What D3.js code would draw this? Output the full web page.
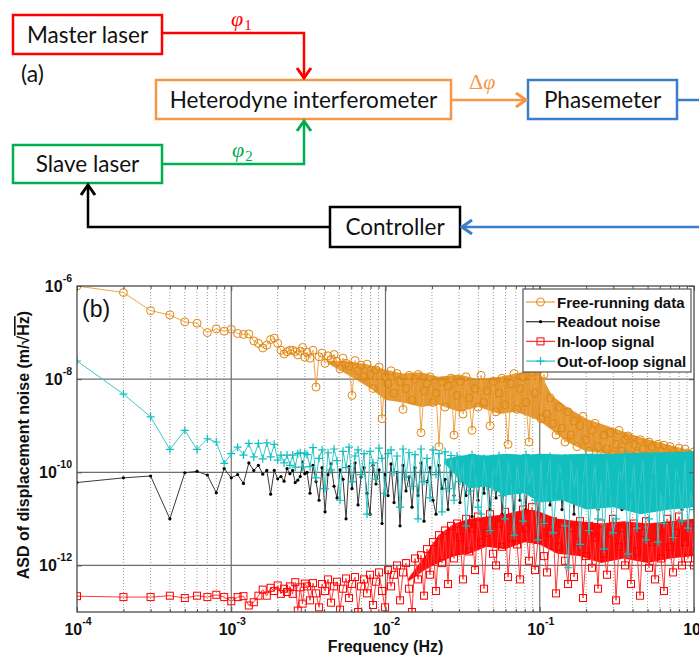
<!DOCTYPE html>
<html>
<head>
<meta charset="utf-8">
<script src="https://cdn.jsdelivr.net/npm/d3@7"></script>
<style>
  body { margin: 0; background: #fff; }
  svg { display: block; }
</style>
</head>
<body>
<svg id="fig" width="699" height="655"></svg>
<script>
// ---------------- data ----------------
// spectrum bin width of the phase measurement
const binHz = 1e-4;

// log10 ASD (m/rtHz) for the first 30 frequency bins (k * binHz)
const freeRunningLow = [-6.0, -6.14, -6.53, -6.62, -6.77, -6.80, -7.0, -6.92, -6.97, -6.93,
  -7.02, -7.04, -7.03, -7.18, -7.23, -7.33, -7.27, -7.15, -7.12, -7.23,
  -7.38, -7.46, -7.41, -7.38, -7.38, -7.41, -7.48, -7.40, -7.32, -7.53];
const readoutLow = [-10.22, -10.12, -10.08, -11.0, -10.01, -9.98, -10.06, -10.44, -9.92, -10.12,
  -10.05, -10.24, -9.80, -9.96, -9.85, -10.04, -9.96, -10.47, -9.96, -10.14,
  -10.09, -10.19, -9.92, -10.03, -9.96, -10.22, -10.17, -10.09, -9.78, -10.03];
const inLoopLow = [-12.66, -12.68, -12.68, -12.65, -12.70, -12.65, -12.68, -12.63, -12.68, -12.77,
  -12.68, -12.66, -12.86, -12.79, -12.65, -12.52, -12.65, -12.48, -12.55, -12.43,
  -12.61, -12.50, -12.57, -12.45, -12.61, -12.36, -12.97, -12.47, -12.82, -12.39];
const outOfLoopLow = [-7.61, -8.32, -8.81, -9.51, -9.10, -9.51, -9.28, -9.35, -9.81, -9.60,
  -9.46, -9.63, -9.38, -9.67, -9.38, -9.71, -9.37, -9.67, -9.40, -9.74,
  -9.63, -9.80, -9.63, -9.85, -9.63, -9.89, -9.60, -9.58, -9.89, -9.59];

// log10 ASD samples from 3.1 mHz to 1 Hz, evenly spaced in log frequency
const denseStartHz = 0.0031, denseEndHz = 1;
const freeRunningDense = [
  -7.42, -7.55, -7.38, -8.17, -7.52, -7.44, -7.66, -7.5, -7.58, -7.47,
  -7.62, -7.78, -7.55, -7.66, -7.72, -8.35, -7.6, -7.82, -7.7, -7.95,
  -7.68, -7.9, -8.2, -7.8, -7.74, -8.85, -7.95, -8.1, -7.82, -8.3,
  -7.88, -8.05, -8.65, -8.2, -7.92, -8.45, -8.0, -7.9, -9.15, -8.25,
  -8.1, -7.95, -8.5, -8.3, -9.45, -8.05, -8.6, -8.15, -7.98, -9.2,
  -8.35, -8.05, -8.75, -7.95, -8.4, -9.1, -8.2, -8.6, -7.92, -8.5,
  -8.25, -9.0, -8.05, -8.7, -8.3, -7.98, -8.55, -9.4, -8.1, -7.88,
  -8.65, -8.2, -7.95, -8.5, -9.35, -7.85, -8.3, -7.82, -8.85, -7.9,
  -8.75, -8.4, -8.95, -9.2, -8.6, -9.05, -9.35, -8.7, -9.2, -8.9,
  -9.45, -9.0, -8.8, -9.3, -9.55, -9.1, -8.95, -9.45, -9.6, -9.2,
  -9.5, -9.15, -9.62, -9.4, -9.1, -9.55, -9.3, -9.22, -9.64, -9.4,
  -9.6, -9.3, -9.5, -9.65, -9.35, -9.45, -9.66, -9.4, -9.55, -9.42,
  -9.65, -9.45, -9.55, -9.62, -9.48, -9.66, -9.5, -9.6, -9.66, -9.56];
const readoutDense = [
  -10.0, -10.45, -9.85, -10.2, -10.6, -9.9, -10.85, -10.05, -9.82, -10.3,
  -10.55, -9.95, -10.15, -11.0, -9.88, -10.35, -9.8, -10.7, -10.1, -9.9,
  -10.45, -10.9, -9.85, -10.25, -9.95, -11.1, -10.05, -10.5, -9.82, -10.65,
  -10.0, -11.15, -9.85, -10.4, -10.1, -10.75, -9.9, -10.5, -9.8, -11.05,
  -10.2, -9.9, -10.6, -10.9, -9.85, -10.35, -10.15, -10.8, -9.9, -10.5,
  -9.8, -10.65, -10.2, -10.5, -9.78, -10.95, -10.05, -10.6, -9.85, -10.45,
  -9.75, -10.8, -10.1, -10.55, -9.72, -10.9, -9.95, -10.45, -9.78, -11.0,
  -9.7, -10.6, -10.0, -10.8, -9.7, -10.5, -9.85, -11.1, -9.68, -10.6,
  -9.72, -10.7, -9.9, -10.5, -9.7, -10.8, -9.65, -10.6, -9.8, -10.9,
  -9.66, -10.5, -9.75, -10.7, -9.68, -10.6, -9.65, -10.8, -9.7, -10.5,
  -9.64, -10.7, -9.72, -10.5, -9.64, -10.8, -9.68, -10.6, -9.64, -10.7,
  -9.65, -10.5, -9.7, -10.8, -9.64, -10.6, -9.62, -10.7, -9.66, -10.5,
  -9.62, -10.7, -9.66, -10.6, -9.62, -10.8, -9.6, -10.6, -9.64, -10.7];
const inLoopDense = [
  -12.45, -12.75, -12.38, -12.6, -12.9, -12.4, -12.55, -12.3, -12.8, -12.45,
  -12.35, -12.95, -12.5, -12.28, -12.7, -12.4, -12.25, -13.0, -12.45, -12.3,
  -12.6, -12.2, -12.85, -12.35, -12.15, -12.55, -12.9, -12.1, -12.45, -12.2,
  -12.0, -12.75, -12.15, -11.95, -12.5, -13.0, -11.85, -12.3, -11.78, -12.65,
  -11.65, -12.2, -11.5, -12.55, -11.35, -11.95, -11.25, -12.4, -11.15, -11.85,
  -11.1, -11.4, -12.3, -11.0, -11.7, -11.2, -12.1, -10.95, -11.5, -12.5,
  -11.3, -10.9, -11.75, -12.0, -11.1, -11.6, -10.85, -12.25, -11.4, -11.0,
  -11.55, -12.3, -10.8, -11.2, -11.9, -10.75, -12.1, -11.45, -11.0, -11.8,
  -12.15, -11.3, -11.05, -12.6, -11.6, -11.1, -11.9, -12.4, -11.2, -12.25,
  -11.5, -11.05, -12.7, -11.8, -11.15, -12.05, -11.4, -12.5, -11.1, -11.75,
  -12.2, -11.3, -11.0, -12.75, -11.6, -11.2, -12.0, -11.45, -12.4, -11.1,
  -11.7, -12.65, -11.3, -11.05, -12.05, -11.5, -12.3, -11.2, -11.85, -12.55,
  -11.0, -11.6, -12.15, -11.3, -10.95, -12.0, -11.5, -11.85, -11.1, -12.0];
const outOfLoopDense = [
  -9.62, -9.88, -9.47, -10.12, -9.7, -9.52, -10.35, -9.58, -9.95, -9.5,
  -9.75, -10.6, -9.55, -9.9, -9.46, -10.2, -9.65, -9.52, -10.05, -9.6,
  -10.9, -9.55, -9.8, -10.15, -9.48, -9.7, -10.45, -9.6, -9.52, -10.0,
  -9.65, -10.75, -9.5, -10.1, -9.58, -10.3, -9.62, -11.0, -9.5, -10.2,
  -9.7, -10.55, -9.52, -10.05, -9.6, -10.85, -9.56, -10.35, -9.64, -10.6,
  -9.65, -10.2, -9.8, -11.15, -10.4, -9.62, -10.0, -10.75, -10.9, -9.7,
  -10.3, -11.25, -9.9, -10.1, -9.64, -10.5, -11.0, -9.75, -10.2, -11.35,
  -9.8, -10.4, -11.05, -9.62, -10.3, -9.9, -10.6, -11.45, -9.7, -11.1,
  -10.2, -9.66, -11.3, -10.5, -9.8, -10.1, -11.15, -12.05, -9.7, -10.35,
  -9.9, -11.55, -10.2, -9.64, -11.25, -10.45, -9.8, -11.0, -10.15, -11.65,
  -9.7, -10.4, -11.3, -11.0, -9.9, -10.2, -9.62, -11.75, -10.5, -9.8,
  -11.2, -10.3, -9.7, -11.45, -11.0, -10.1, -9.64, -11.5, -10.4, -11.1,
  -9.75, -10.6, -11.4, -9.9, -10.2, -11.05, -9.7, -11.2, -10.4, -10.8];

// bulk of the scatter where the spectra are densely packed: [Hz, log10 low, log10 high]
const freeRunningBand = [[0.0042, -7.66, -7.6], [0.006, -7.95, -7.62], [0.008, -8.2, -7.7],
  [0.01, -8.45, -7.8], [0.013, -8.5, -7.88], [0.017, -8.6, -7.85], [0.022, -8.55, -7.95],
  [0.03, -8.7, -7.9], [0.04, -8.6, -8.0], [0.055, -8.75, -7.95], [0.07, -8.7, -7.88],
  [0.085, -8.8, -7.82], [0.1, -8.9, -7.85], [0.12, -9.1, -8.35], [0.15, -9.35, -8.6],
  [0.2, -9.55, -8.85], [0.3, -9.62, -9.05], [0.45, -9.65, -9.25], [0.7, -9.66, -9.42],
  [1, -9.66, -9.55]];
const inLoopBand = [[0.014, -12.35, -12.28], [0.018, -12.1, -11.8], [0.022, -11.95, -11.35],
  [0.028, -11.8, -11.1], [0.035, -11.75, -11.0], [0.045, -11.6, -10.95], [0.06, -11.65, -10.9],
  [0.08, -11.5, -10.8], [0.1, -11.55, -10.85], [0.13, -11.75, -11.0], [0.18, -11.8, -11.05],
  [0.25, -11.95, -11.1], [0.35, -11.85, -11.05], [0.5, -11.95, -11.1], [0.7, -11.85, -11.05],
  [1, -11.8, -11.0]];
const outOfLoopBand = [[0.024, -9.8, -9.72], [0.03, -10.15, -9.65], [0.035, -10.35, -9.62],
  [0.045, -10.3, -9.64], [0.06, -10.5, -9.6], [0.08, -10.45, -9.63], [0.1, -10.65, -9.6],
  [0.14, -10.6, -9.62], [0.2, -10.8, -9.6], [0.3, -10.75, -9.6], [0.45, -10.9, -9.58],
  [0.7, -10.8, -9.57], [1, -10.75, -9.55]];

const xTickValues = [1e-4, 1e-3, 1e-2, 1e-1, 1];
const xTickExponents = ["-4", "-3", "-2", "-1", "0"];
const yTickValues = [1e-6, 1e-8, 1e-10, 1e-12];
const yTickExponents = ["-6", "-8", "-10", "-12"];
const legendLabels = ["Free-running data", "Readout noise", "In-loop signal", "Out-of-loop signal"];

// ---------------- drawing ----------------
const svg = d3.select("#fig");
const diagramFont = "Lato, 'Open Sans', sans-serif";
const chartFont = "'Liberation Sans', Arial, sans-serif";

// ---- (a) block diagram ----
const dia = svg.append("g");
const boxes = [
  {label: "Master laser", x: 13, y: 15, w: 149, h: 39, color: "#ff0000"},
  {label: "Slave laser", x: 13, y: 145, w: 149, h: 38, color: "#00b050"},
  {label: "Heterodyne interferometer", x: 156, y: 80, w: 295, h: 39, color: "#f79646"},
  {label: "Phasemeter", x: 528, y: 80, w: 149, h: 39, color: "#3b7dc8"},
  {label: "Controller", x: 330, y: 207, w: 130, h: 40, color: "#000000"}
];
boxes.forEach(b => {
  dia.append("rect").attr("x", b.x).attr("y", b.y).attr("width", b.w).attr("height", b.h)
    .attr("fill", "#fff").attr("stroke", b.color).attr("stroke-width", 2.5);
  dia.append("text").attr("x", b.x + b.w / 2).attr("y", b.y + b.h / 2 + 8)
    .attr("text-anchor", "middle").attr("font-family", diagramFont).attr("font-size", 22.5)
    .attr("fill", "#111").text(b.label);
});

function connector(points, color) {
  dia.append("polyline").attr("points", points.map(p => p.join(",")).join(" "))
    .attr("fill", "none").attr("stroke", color).attr("stroke-width", 2.5);
  const [tx, ty] = points[points.length - 1];
  const [px, py] = points[points.length - 2];
  const len = Math.hypot(tx - px, ty - py), ux = (tx - px) / len, uy = (ty - py) / len;
  const a = 10, s = 7;
  dia.append("polyline")
    .attr("points", [[tx - ux * a - uy * s, ty - uy * a + ux * s], [tx, ty], [tx - ux * a + uy * s, ty - uy * a - ux * s]]
      .map(p => p.join(",")).join(" "))
    .attr("fill", "none").attr("stroke", color).attr("stroke-width", 3)
    .attr("stroke-linejoin", "miter");
}
connector([[162, 33], [304, 33], [304, 78]], "#ff0000");
connector([[162, 164], [304, 164], [304, 121]], "#00b050");
connector([[452, 100], [526, 100]], "#f79646");
dia.append("line").attr("x1", 678).attr("x2", 699).attr("y1", 100).attr("y2", 100)
  .attr("stroke", "#3b7dc8").attr("stroke-width", 2.5);
connector([[699, 227], [462, 227]], "#3b7dc8");
connector([[330, 227], [88, 227], [88, 185]], "#000000");

function phaseLabel(px, py, color, prefix, sub) {
  const t = dia.append("text").attr("x", px).attr("y", py).attr("fill", color)
    .attr("font-family", "'Liberation Serif', 'DejaVu Serif', serif").attr("font-size", 22);
  if (prefix) t.append("tspan").text(prefix);
  t.append("tspan").attr("font-style", "italic").text("φ");
  if (sub) t.append("tspan").attr("font-size", 15).attr("dx", 1).attr("dy", 4).text(sub);
}
phaseLabel(231, 26, "#ff0000", null, "1");
phaseLabel(232, 157, "#00b050", null, "2");
phaseLabel(469, 89, "#f79646", "Δ", null);
dia.append("text").attr("x", 21).attr("y", 82).attr("font-family", diagramFont)
  .attr("font-size", 23).attr("fill", "#111").text("(a)");

// ---- (b) noise spectra ----
const plotL = 77, plotR = 694, plotT = 286, plotB = 612;
const x = d3.scaleLog().domain([1e-4, 1]).range([plotL, plotR]);
const y = d3.scaleLog().domain([1e-13, 1e-6]).range([plotB, plotT]);

const plot = svg.append("g");
svg.append("defs").append("clipPath").attr("id", "plotClip")
  .append("rect").attr("x", plotL).attr("y", plotT).attr("width", plotR - plotL).attr("height", plotB - plotT);

// grid
const minorX = [];
for (let d = -4; d < 0; d++) for (let m = 2; m <= 9; m++) minorX.push(m * Math.pow(10, d));
plot.append("g").selectAll("line").data(minorX).join("line")
  .attr("x1", d => x(d)).attr("x2", d => x(d)).attr("y1", plotT).attr("y2", plotB)
  .attr("stroke", "#9a9a9a").attr("stroke-width", 1).attr("stroke-dasharray", "1,2");
plot.append("g").selectAll("line").data(xTickValues.slice(1, -1)).join("line")
  .attr("x1", d => x(d)).attr("x2", d => x(d)).attr("y1", plotT).attr("y2", plotB)
  .attr("stroke", "#6e6e6e").attr("stroke-width", 1.2);
plot.append("g").selectAll("line").data(yTickValues.slice(1)).join("line")
  .attr("x1", plotL).attr("x2", plotR).attr("y1", d => y(d)).attr("y2", d => y(d))
  .attr("stroke", "#6e6e6e").attr("stroke-width", 1.2);

// series
function buildSeries(low, dense) {
  const pts = low.map((e, i) => ({f: (i + 1) * binHz, v: Math.pow(10, e)}));
  const l0 = Math.log10(denseStartHz), l1 = Math.log10(denseEndHz), n = dense.length;
  dense.forEach((e, i) => pts.push({f: Math.pow(10, l0 + (l1 - l0) * i / (n - 1)), v: Math.pow(10, e)}));
  return pts;
}
const series = [
  {name: legendLabels[0], pts: buildSeries(freeRunningLow, freeRunningDense), band: freeRunningBand,
   line: "#f0a447", mark: "#e0870f", marker: "circle", bandOpacity: 0.85},
  {name: legendLabels[1], pts: buildSeries(readoutLow, readoutDense), band: null,
   line: "#3a3a3a", mark: "#000000", marker: "dot"},
  {name: legendLabels[2], pts: buildSeries(inLoopLow, inLoopDense), band: inLoopBand,
   line: "#ff3a3a", mark: "#ff0000", marker: "square", bandOpacity: 0.95},
  {name: legendLabels[3], pts: buildSeries(outOfLoopLow, outOfLoopDense), band: outOfLoopBand,
   line: "#3cc8c8", mark: "#12bfbf", marker: "plus", bandOpacity: 1}
];

function drawMarker(g, type, color) {
  if (type === "circle") g.append("circle").attr("r", 4).attr("fill", "none").attr("stroke", color).attr("stroke-width", 1);
  else if (type === "square") g.append("rect").attr("x", -3.5).attr("y", -3.5).attr("width", 7).attr("height", 7)
    .attr("fill", "none").attr("stroke", color).attr("stroke-width", 1);
  else if (type === "plus") g.append("path").attr("d", "M-4,0H4M0,-4V4").attr("stroke", color).attr("stroke-width", 1.2);
  else g.append("circle").attr("r", 1.6).attr("fill", color);
}

const dataLayer = plot.append("g").attr("clip-path", "url(#plotClip)");
const line = d3.line().x(d => x(d.f)).y(d => y(d.v));
const area = d3.area().x(d => x(d[0])).y0(d => y(Math.pow(10, d[1]))).y1(d => y(Math.pow(10, d[2])));
series.forEach(s => {
  const g = dataLayer.append("g");
  if (s.band) g.append("path").attr("d", area(s.band)).attr("fill", s.mark).attr("opacity", s.bandOpacity);
  g.append("path").attr("d", line(s.pts)).attr("fill", "none").attr("stroke", s.line).attr("stroke-width", 1);
  g.selectAll("g.m").data(s.pts).join("g").attr("class", "m")
    .attr("transform", d => `translate(${x(d.f)},${y(d.v)})`)
    .each(function () { drawMarker(d3.select(this), s.marker, s.mark); });
});

// axes frame with inward ticks
const allXTicks = xTickValues.concat(minorX);
const xAxisB = d3.axisBottom(x).tickValues(allXTicks).tickSize(-5).tickFormat("");
const xAxisT = d3.axisTop(x).tickValues(allXTicks).tickSize(-5).tickFormat("");
const yAxisL = d3.axisLeft(y).tickValues(yTickValues).tickSize(-5).tickFormat("");
const yAxisR = d3.axisRight(y).tickValues(yTickValues).tickSize(-5).tickFormat("");
[[xAxisB, `translate(0,${plotB})`], [xAxisT, `translate(0,${plotT})`],
 [yAxisL, `translate(${plotL},0)`], [yAxisR, `translate(${plotR},0)`]].forEach(([ax, tr]) => {
  const g = plot.append("g").attr("transform", tr).call(ax);
  g.select(".domain").remove();
  g.selectAll(".tick line").attr("stroke", "#555").attr("stroke-width", 1);
});
plot.selectAll("g.tick").filter(d => minorX.includes(d)).select("line").attr("y2", function () {
  return +d3.select(this).attr("y2") > 0 ? 3 : -3;
});
plot.append("rect").attr("x", plotL).attr("y", plotT).attr("width", plotR - plotL).attr("height", plotB - plotT)
  .attr("fill", "none").attr("stroke", "#4a4a4a").attr("stroke-width", 1.3);

// tick labels
const tickLabel = (sel, base, exp) => {
  sel.append("tspan").text(base);
  sel.append("tspan").attr("font-size", 10.5).attr("dy", -10).text(exp);
};
xTickValues.forEach((t, i) => {
  const txt = svg.append("text").attr("x", x(t) + 1).attr("y", 635).attr("text-anchor", "middle")
    .attr("font-family", chartFont).attr("font-weight", "bold").attr("font-size", 16).attr("fill", "#111");
  tickLabel(txt, "10", xTickExponents[i]);
});
yTickValues.forEach((t, i) => {
  const txt = svg.append("text").attr("x", 72).attr("y", y(t) + 6).attr("text-anchor", "end")
    .attr("font-family", chartFont).attr("font-weight", "bold").attr("font-size", 16).attr("fill", "#111");
  tickLabel(txt, "10", yTickExponents[i]);
});

// axis titles
svg.append("text").attr("x", (plotL + plotR) / 2).attr("y", 652).attr("text-anchor", "middle")
  .attr("font-family", chartFont).attr("font-weight", "bold").attr("font-size", 16).attr("fill", "#111")
  .text("Frequency (Hz)");
const yTitle = svg.append("text").attr("transform", "translate(29,445) rotate(-90)").attr("text-anchor", "middle")
  .attr("font-family", chartFont).attr("font-weight", "bold").attr("font-size", 16).attr("fill", "#111");
yTitle.append("tspan").text("ASD of displacement noise (m/√");
yTitle.append("tspan").style("text-decoration", "overline").text("Hz");
yTitle.append("tspan").text(")");

svg.append("text").attr("x", 82).attr("y", 317).attr("font-family", chartFont).attr("font-size", 23)
  .attr("fill", "#111").text("(b)");

// legend
const lg = svg.append("g");
lg.append("rect").attr("x", 523).attr("y", 289).attr("width", 168).attr("height", 83)
  .attr("fill", "#fff").attr("stroke", "#555").attr("stroke-width", 1.2);
series.forEach((s, i) => {
  const yy = 302 + i * 19.7;
  lg.append("line").attr("x1", 526).attr("x2", 555).attr("y1", yy).attr("y2", yy)
    .attr("stroke", s.line).attr("stroke-width", 1.3);
  drawMarker(lg.append("g").attr("transform", `translate(540.5,${yy})`), s.marker, s.mark);
  lg.append("text").attr("x", 557).attr("y", yy + 5.5).attr("font-family", chartFont)
    .attr("font-weight", "bold").attr("font-size", 15).attr("fill", "#111").text(s.name);
});
</script>
</body>
</html>
